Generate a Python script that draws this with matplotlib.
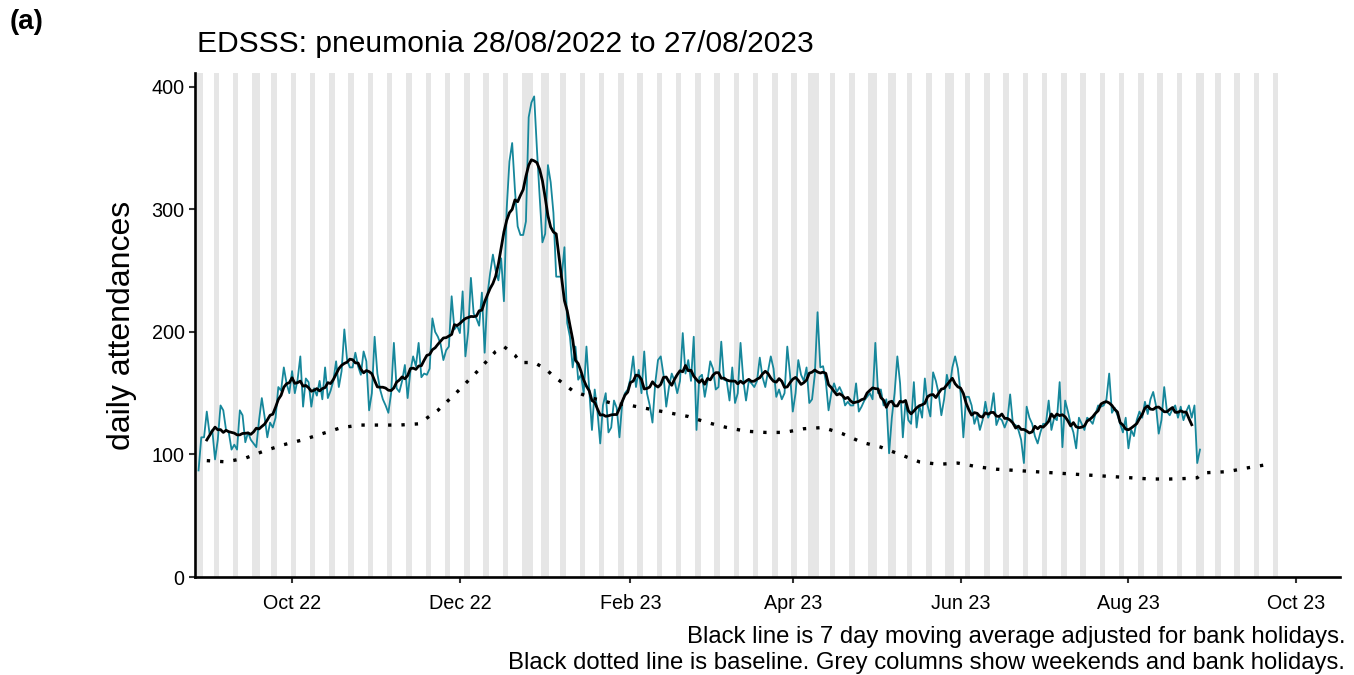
import matplotlib
matplotlib.use('Agg')
import matplotlib.pyplot as plt
import matplotlib.dates as mdates
import numpy as np
import pandas as pd

plt.rcParams['font.family'] = ['Liberation Sans', 'DejaVu Sans']

# daily attendances, one row per week (Sun..Sat), starting Sun 28/08/2022
start_date = '2022-08-28'
daily = [
    87, 114, 114, 135, 117, 120, 96,
    112, 140, 136, 120, 118, 104, 108,
    104, 136, 132, 110, 118, 112, 109,
    106, 128, 146, 131, 114, 126, 122,
    130, 155, 152, 171, 158, 150, 168,
    150, 161, 180, 139, 162, 159, 139,
    154, 148, 160, 145, 171, 146, 152,
    160, 176, 155, 168, 202, 177, 171,
    171, 183, 172, 165, 184, 176, 136,
    150, 196, 166, 153, 145, 140, 134,
    150, 191, 154, 151, 160, 173, 146,
    168, 180, 172, 191, 163, 166, 165,
    170, 211, 200, 196, 190, 177, 185,
    188, 229, 202, 205, 199, 233, 180,
    200, 244, 215, 211, 205, 232, 183,
    230, 248, 263, 250, 242, 260, 225,
    300, 339, 354, 316, 286, 279, 279,
    290, 375, 387, 392, 349, 310, 273,
    280, 336, 322, 297, 245, 245, 245,
    269, 207, 196, 171, 188, 161, 165,
    150, 188, 153, 120, 153, 135, 109,
    140, 150, 118, 122, 144, 138, 114,
    142, 150, 153, 162, 180, 155, 169,
    150, 184, 150, 140, 126, 158, 177,
    180, 165, 139, 155, 166, 160, 150,
    160, 199, 166, 177, 160, 196, 120,
    163, 165, 147, 160, 176, 170, 153,
    155, 192, 161, 160, 144, 171, 142,
    150, 191, 161, 144, 160, 158, 155,
    160, 179, 163, 155, 168, 180, 170,
    147, 153, 145, 150, 188, 165, 135,
    150, 177, 165, 160, 171, 142, 145,
    165, 216, 171, 172, 160, 136, 150,
    158, 151, 155, 150, 140, 143, 140,
    140, 158, 135, 139, 144, 147, 150,
    145, 191, 150, 153, 140, 145, 101,
    130, 150, 180, 158, 114, 144, 128,
    125, 159, 122, 140, 130, 162, 140,
    131, 167, 160, 150, 132, 145, 165,
    154, 171, 180, 170, 150, 114, 147,
    147, 140, 125, 132, 120, 128, 143,
    130, 135, 150, 124, 130, 128, 122,
    128, 149, 125, 124, 120, 112, 93,
    139, 130, 125, 115, 109, 118, 125,
    125, 144, 120, 130, 128, 159, 106,
    144, 135, 125, 118, 105, 130, 125,
    120, 130, 128, 125, 133, 140, 139,
    140, 145, 166, 134, 138, 132, 125,
    118, 130, 105, 120, 115, 128, 135,
    130, 143, 133, 145, 151, 140, 117,
    128, 155, 135, 132, 137, 140, 130,
    139, 128, 135, 140, 130, 140, 93,
    104,
]

baseline_dates = [
    '2022-08-31', '2022-09-07', '2022-09-14', '2022-09-21', '2022-09-28',
    '2022-10-05', '2022-10-12', '2022-10-19', '2022-10-26', '2022-11-02',
    '2022-11-09', '2022-11-16', '2022-11-23', '2022-11-30', '2022-12-07',
    '2022-12-14', '2022-12-17', '2022-12-21', '2022-12-23', '2022-12-28',
    '2023-01-01', '2023-01-04', '2023-01-11', '2023-01-18', '2023-01-25',
    '2023-02-01', '2023-02-08', '2023-02-15', '2023-02-22', '2023-03-01',
    '2023-03-08', '2023-03-15', '2023-03-22', '2023-03-29', '2023-04-05',
    '2023-04-12', '2023-04-19', '2023-04-26', '2023-05-03', '2023-05-10',
    '2023-05-17', '2023-05-24', '2023-05-31', '2023-06-07', '2023-06-14',
    '2023-06-21', '2023-06-28', '2023-07-05', '2023-07-12', '2023-07-19',
    '2023-07-26', '2023-08-02', '2023-08-09', '2023-08-16', '2023-08-23',
    '2023-08-26', '2023-08-28', '2023-09-06', '2023-09-13', '2023-09-21',
]
baseline_vals = [
    95, 94, 97, 103, 108,
    112, 117, 122, 124, 124,
    124, 125, 136, 151, 167,
    184, 188, 181, 175, 175,
    170, 164, 152, 146, 142,
    140, 137, 134, 131, 126,
    122, 119, 118, 118, 121,
    122, 117, 110, 106, 100,
    94, 92, 93, 90, 88,
    87, 86, 85, 84, 83,
    82, 81, 80, 80, 80.5,
    81, 85, 86, 89, 92,
]

bank_holidays = ['2022-08-29', '2022-09-19', '2022-12-26', '2022-12-27',
                 '2023-01-02', '2023-04-07', '2023-04-10', '2023-05-01',
                 '2023-05-08', '2023-05-29', '2023-08-28']
shade_end = '2023-09-24'

title = 'EDSSS: pneumonia 28/08/2022 to 27/08/2023'
caption1 = 'Black line is 7 day moving average adjusted for bank holidays.'
caption2 = 'Black dotted line is baseline. Grey columns show weekends and bank holidays.'

days = pd.date_range(start_date, periods=len(daily), freq='D')
series = pd.Series(daily, index=days)
ma = series.rolling(7, center=True).mean()

all_days = pd.date_range(start_date, shade_end, freq='D')
bh = pd.to_datetime(bank_holidays)
shaded = [d for d in all_days if d.weekday() >= 5 or d in bh]

fig = plt.figure(figsize=(13.54, 6.75), dpi=100)
ax = fig.add_axes([0.144, 0.145, 0.8457, 0.7467])

for d in shaded:
    c = mdates.date2num(d)
    ax.axvspan(c - 0.5, c + 0.5, color='#e6e6e6', lw=0, zorder=0)

ax.plot(days, daily, color='#16879b', lw=1.3, zorder=2)
ax.plot(ma.index, ma.values, color='black', lw=2.0, zorder=3)
ax.plot(pd.to_datetime(baseline_dates), baseline_vals, color='black', lw=2.4,
        linestyle=(0, (1, 3)), dash_capstyle='butt', zorder=3)

ax.set_xlim(pd.Timestamp('2022-08-26 17:00'), pd.Timestamp('2023-10-16 22:00'))
ax.set_ylim(0, 411)
ax.set_yticks([0, 100, 200, 300, 400])
ax.xaxis.set_major_locator(mdates.MonthLocator(bymonth=[2, 4, 6, 8, 10, 12]))
ax.xaxis.set_major_formatter(mdates.DateFormatter('%b %y'))

for side in ['top', 'right']:
    ax.spines[side].set_visible(False)
for side in ['left', 'bottom']:
    ax.spines[side].set_linewidth(1.9)
    ax.spines[side].set_color('black')
ax.tick_params(axis='both', length=4.5, width=1.5, color='#333333',
               labelsize=14.2, labelcolor='black')
ax.tick_params(axis='x', pad=8)
ax.tick_params(axis='y', pad=3)

fig.text(0.090, 0.5185, 'daily attendances', rotation=90, ha='center',
         va='center', fontsize=23)
fig.text(0.1455, 0.923, title, ha='left', va='baseline', fontsize=21.6)
fig.text(0.007, 0.967, '(a)', ha='left', va='center', fontsize=20,
         fontweight='bold')
fig.text(0.9934, 0.0563, caption1, ha='right', va='center', fontsize=17.2)
fig.text(0.9934, 0.0178, caption2, ha='right', va='center', fontsize=17.2)

fig.savefig('out.png', dpi=100)
